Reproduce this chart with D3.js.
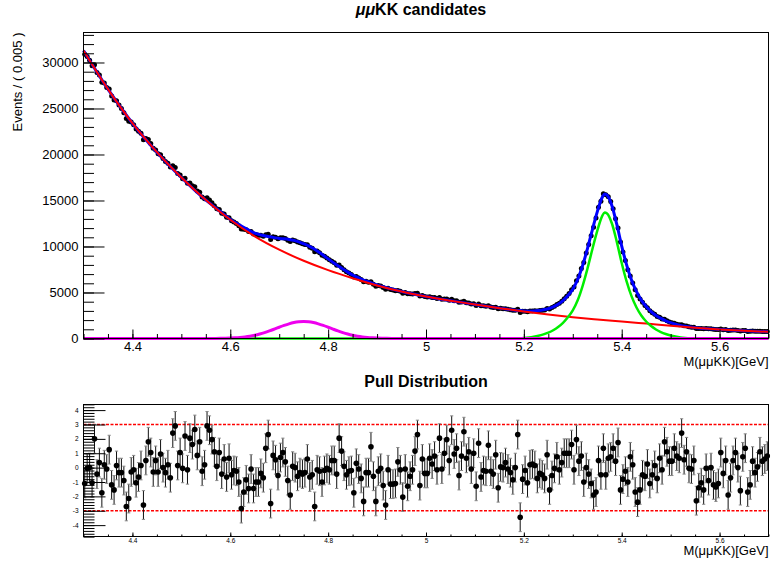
<!DOCTYPE html>
<html>
<head>
<meta charset="utf-8">
<script src="https://cdn.jsdelivr.net/npm/d3@7"></script>
<style>
  body { margin: 0; background: #fff; }
  svg text { font-family: "Liberation Sans", Arial, Helvetica, sans-serif; fill: #000; }
</style>
</head>
<body>
<div id="chart"></div>
<script>
// binning of the data histogram
const binLo = 4.3;
const binWidth = 0.005;

// events per bin (280 bins, 4.3 - 5.7)
const events = [
  30900, 30660, 30250, 29650, 29750, 28910, 28630, 27860, 27760, 27290,
  27120, 26350, 25920, 25830, 25380, 25010, 24550, 23900, 23620, 23540,
  23220, 22770, 22520, 22320, 21600, 21740, 21620, 21190, 20680, 20480,
  20070, 19970, 19560, 19240, 19040, 18640, 18790, 18580, 17930, 17780,
  17370, 17420, 16870, 16910, 16600, 16490, 16020, 15890, 15390, 15200,
  15300, 15050, 14750, 14440, 14110, 14010, 13620, 13540, 13190, 13130,
  12800, 12670, 12500, 12260, 11900, 11880, 11830, 11620, 11630, 11360,
  11310, 11230, 11220, 11120, 11280, 11320, 10770, 11070, 11000, 10840,
  10940, 10950, 10860, 10690, 10540, 10700, 10620, 10480, 10420, 10310,
  10210, 10190, 9930, 9800, 9420, 9500, 9320, 9060, 8940, 8750,
  8550, 8410, 8230, 7950, 7990, 7730, 7470, 7250, 7110, 6960,
  6690, 6730, 6580, 6410, 6170, 6220, 6120, 6160, 5910, 5680,
  5760, 5700, 5530, 5360, 5470, 5330, 5260, 5190, 5230, 5130,
  4930, 5010, 4870, 4870, 4850, 4880, 4910, 4610, 4680, 4560,
  4510, 4540, 4460, 4460, 4350, 4450, 4260, 4290, 4300, 4170,
  4260, 4110, 4090, 3930, 3980, 4040, 3880, 3870, 3760, 3780,
  3600, 3740, 3560, 3550, 3500, 3570, 3430, 3370, 3410, 3240,
  3290, 3245, 3230, 3170, 3120, 3060, 3080, 3180, 2830, 2960,
  2970, 2920, 2980, 2990, 3010, 2980, 3030, 3070, 3100, 3260,
  3200, 3360, 3510, 3700, 3820, 4050, 4330, 4600, 4900, 5300,
  5590, 6280, 6790, 7600, 8260, 9280, 10210, 11160, 12100, 13090,
  14270, 14930, 15730, 15630, 15400, 14890, 14090, 13010, 12020, 10500,
  9410, 8490, 7460, 6780, 6040, 5300, 4680, 4280, 3940, 3600,
  3340, 3010, 2800, 2630, 2400, 2310, 2120, 2090, 1930, 1790,
  1700, 1650, 1560, 1490, 1500, 1380, 1350, 1270, 1230, 1220,
  1090, 1100, 1100, 1060, 1090, 1050, 1060, 1000, 980, 970,
  1020, 960, 970, 880, 900, 920, 920, 880, 820, 870,
  870, 770, 780, 810, 780, 780, 790, 760, 750, 750
];

// pull per bin
const pulls = [
  -1.1, -0.05, 0.0, -1.05, 2.0, -0.45, 0.35, -1.75, 0.2, -0.1,
  1.25, -1.2, -1.55, 0.15, -0.35, -0.35, -0.9, -2.7, -2.15, -0.3,
  -0.15, -1.05, -0.65, 0.15, -2.6, 0.5, 1.8, 1.05, -0.3, 0.5,
  -0.3, 0.95, 0.0, -0.35, 0.2, -0.7, 2.4, 2.9, 0.15, 1.05,
  -0.05, 2.2, -0.15, 2.05, 1.6, 2.65, 0.85, 1.8, -0.25, 0.2,
  2.9, 2.6, 1.95, 1.1, 0.1, 1.05, -0.45, 0.6, -0.65, 0.65,
  -0.5, -0.2, -0.25, -1.0, -2.85, -1.7, -0.85, -1.45, -0.1, -1.45,
  -1.0, -1.0, -0.4, -0.7, 1.35, 2.3, -2.5, 0.85, 0.55, -0.55,
  0.7, 1.05, 0.4, -0.9, -1.9, 0.1, 0.0, -0.6, -0.35, -0.45,
  -0.35, 0.6, -0.65, -0.5, -2.7, -0.15, -0.25, -1.0, -0.2, -0.05,
  -0.15, 0.5, 0.5, -0.45, 2.05, 1.15, 0.1, -0.5, -0.25, -0.2,
  -1.75, 0.3, -0.1, -0.75, -2.35, -0.35, -0.35, 1.45, -0.6, -2.35,
  -0.25, -0.05, -1.25, -2.6, -0.15, -1.15, -1.15, -1.1, 0.4, -0.15,
  -2.05, -0.1, -1.3, -0.6, -0.15, 1.15, 2.3, -1.25, 0.6, -0.4,
  -0.4, 0.65, 0.25, 0.8, -0.15, 2.05, -0.1, 1.0, 1.95, 0.5,
  2.6, 0.95, 1.35, -0.55, 0.8, 2.5, 0.65, 1.1, -0.1, 1.0,
  -1.3, 1.7, -0.65, -0.2, -0.25, 1.55, -0.25, -0.45, 0.9, -1.4,
  0.05, 0.0, 0.35, -0.1, -0.35, -0.85, 0.0, 2.3, -3.45, -0.8,
  -0.2, -1.05, 0.2, 0.25, 0.15, -0.75, -0.4, -0.5, -0.75, 0.9,
  -1.55, -0.55, -0.05, 0.75, -0.15, 0.35, 1.0, 1.0, 1.0, 1.6,
  -0.15, 1.95, 0.45, 0.8, -1.0, 0.0, -0.45, -1.1, -1.9, -1.7,
  0.5, -0.5, 1.35, -0.5, 0.65, 0.75, 1.35, 0.45, 1.75, -1.55,
  -0.8, -0.25, -1.0, 0.75, 0.2, -1.7, -2.4, -1.55, -0.5, -0.6,
  0.25, -1.1, -0.5, 0.15, -0.75, 0.65, -0.15, 1.8, 1.1, 0.45,
  0.45, 1.35, 0.8, 0.65, 2.4, 0.55, 1.1, -0.05, -0.1, 0.5,
  -2.3, -1.4, -1.05, -1.55, -0.05, -0.9, 0.0, -1.2, -1.35, -1.1,
  1.05, -0.4, 0.5, -1.9, -0.7, 0.5, 1.05, 0.0, -1.6, 0.75,
  1.35, -1.7, -1.2, 0.45, -0.35, 0.05, 1.1, 0.45, 0.6, 0.8
];

// background fit (red)
const bkgMass = [4.30, 4.35, 4.40, 4.45, 4.50, 4.55, 4.60, 4.65, 4.70, 4.75,
  4.80, 4.85, 4.90, 4.95, 5.00, 5.05, 5.10, 5.15, 5.20, 5.25,
  5.30, 5.35, 5.40, 5.45, 5.50, 5.55, 5.60, 5.65, 5.70];
const bkgFit = [31300, 27100, 23400, 20250, 17500, 15050, 12900, 11100, 9650, 8450,
  7430, 6550, 5770, 5100, 4560, 4110, 3700, 3300, 2930, 2600,
  2310, 2070, 1850, 1620, 1390, 1180, 990, 840, 720];

// total fit (blue)
const totalMass = [4.30, 4.35, 4.40, 4.45, 4.50, 4.55,
  4.56, 4.57, 4.58, 4.59, 4.60, 4.61, 4.62, 4.63, 4.64, 4.65,
  4.66, 4.67, 4.68, 4.69, 4.70, 4.71, 4.72, 4.73, 4.74, 4.75,
  4.76, 4.77, 4.78, 4.79, 4.80, 4.81, 4.82, 4.83, 4.84, 4.85,
  4.86, 4.87, 4.88, 4.89, 4.90, 4.91, 4.92, 4.93, 4.94, 4.95,
  5.00, 5.05, 5.10, 5.15,
  5.16, 5.17, 5.18, 5.19, 5.20, 5.21, 5.22, 5.23, 5.24, 5.25,
  5.26, 5.27, 5.28, 5.29, 5.30, 5.31, 5.32, 5.33, 5.34, 5.35,
  5.36, 5.365, 5.37, 5.38, 5.39, 5.40, 5.41, 5.42, 5.43, 5.44, 5.45,
  5.46, 5.47, 5.48, 5.49, 5.50, 5.51, 5.52, 5.53, 5.54, 5.55,
  5.60, 5.65, 5.70];
const totalFit = [31300, 27100, 23400, 20250, 17500, 15050,
  14625, 14199, 13776, 13357, 12945, 12612, 12293, 11991, 11710, 11454,
  11295, 11162, 11053, 10960, 10874, 10830, 10764, 10662, 10510, 10300,
  10066, 9774, 9432, 9054, 8654, 8274, 7901, 7544, 7211, 6904,
  6644, 6409, 6195, 5998, 5815, 5663, 5518, 5377, 5239, 5103,
  4560, 4110, 3700, 3300,
  3226, 3157, 3093, 3034, 2990, 2974, 2988, 3032, 3116, 3240,
  3442, 3734, 4126, 4668, 5360, 6412, 7914, 9766, 11818, 13770,
  15326, 15704, 15582, 14438, 12394, 10050, 8004, 6358, 5112, 4166, 3470,
  2924, 2508, 2182, 1926, 1720, 1558, 1426, 1324, 1242, 1180,
  990, 840, 720];

// signal peak (green)
const sigMass = [4.30, 5.15,
  5.16, 5.17, 5.18, 5.19, 5.20, 5.21, 5.22, 5.23, 5.24, 5.25,
  5.26, 5.27, 5.28, 5.29, 5.30, 5.31, 5.32, 5.33, 5.34, 5.35,
  5.36, 5.365, 5.37, 5.38, 5.39, 5.40, 5.41, 5.42, 5.43, 5.44, 5.45,
  5.46, 5.47, 5.48, 5.49, 5.50, 5.51, 5.52, 5.53, 5.54, 5.55, 5.70];
const sigFit = [0, 0,
  0, 5, 15, 30, 60, 110, 190, 300, 450, 640,
  900, 1250, 1700, 2300, 3050, 4150, 5700, 7600, 9700, 11700,
  13300, 13700, 13600, 12500, 10500, 8200, 6200, 4600, 3400, 2500, 1850,
  1350, 980, 700, 490, 330, 210, 120, 60, 20, 0, 0];

// partially reconstructed hump (magenta)
const humpMass = [4.30,
  4.55, 4.56, 4.57, 4.58, 4.59, 4.60, 4.61, 4.62, 4.63, 4.64,
  4.65, 4.66, 4.67, 4.68, 4.69, 4.70, 4.71, 4.72, 4.73, 4.74,
  4.75, 4.76, 4.77, 4.78, 4.79, 4.80, 4.81, 4.82, 4.83, 4.84,
  4.85, 4.86, 4.87, 4.88, 4.89, 4.90, 4.91, 4.92, 4.93, 4.94, 4.95,
  5.70];
const humpFit = [0,
  3, 5, 9, 16, 27, 45, 72, 113, 171, 250,
  354, 485, 642, 823, 1020, 1224, 1420, 1594, 1732, 1820,
  1850, 1820, 1732, 1594, 1420, 1224, 1020, 823, 642, 485,
  354, 250, 171, 113, 72, 45, 27, 16, 9, 5, 3,
  0];

const xTicks = [4.4, 4.6, 4.8, 5.0, 5.2, 5.4, 5.6];
const xTickLabels = ["4.4", "4.6", "4.8", "5", "5.2", "5.4", "5.6"];
const yTicks = [0, 5000, 10000, 15000, 20000, 25000, 30000];
const pullTicks = [-4, -3, -2, -1, 0, 1, 2, 3, 4];
const pullLimits = [3, -3];

const W = 776, H = 568;
const plotL = 83.5, plotR = 768.5;
const topT = 32.5, topB = 338.5;
const pullT = 404.5, pullB = 536.5;

const svg = d3.select("#chart").append("svg").attr("width", W).attr("height", H);

const x = d3.scaleLinear().domain([4.3, 5.7]).range([plotL, plotR]);
const y = d3.scaleLinear().domain([0, 33260]).range([topB, topT]);
const yp = d3.scaleLinear().domain([-4.79, 4.39]).range([pullB, pullT]);

const binCenter = (i) => binLo + binWidth * (i + 0.5);

// ---------- top panel ----------
svg.append("g")
  .selectAll("circle")
  .data(events)
  .join("circle")
  .attr("cx", (d, i) => x(binCenter(i)))
  .attr("cy", (d) => y(d))
  .attr("r", 2.5)
  .attr("fill", "#000");

const fitLine = (xs) => d3.line()
  .x((d, i) => x(xs[i]))
  .y((d) => y(d))
  .curve(d3.curveMonotoneX);

svg.append("path").attr("d", fitLine(totalMass)(totalFit))
  .attr("fill", "none").attr("stroke", "#0000ff").attr("stroke-width", 3);
svg.append("path").attr("d", fitLine(bkgMass)(bkgFit))
  .attr("fill", "none").attr("stroke", "#ff0000").attr("stroke-width", 2);
svg.append("path").attr("d", fitLine(sigMass)(sigFit))
  .attr("fill", "none").attr("stroke", "#00ee00").attr("stroke-width", 2.5);
svg.append("path").attr("d", fitLine(humpMass)(humpFit))
  .attr("fill", "none").attr("stroke", "#ee00ee").attr("stroke-width", 3);

function styleAxis(g, size) {
  g.select(".domain").remove();
  g.attr("font-size", size)
    .attr("font-family", '"Liberation Sans", Arial, Helvetica, sans-serif');
  g.selectAll("line").attr("stroke", "#000");
}

const minorX = d3.range(4.3, 5.7001, 0.05);

svg.append("g")
  .attr("transform", `translate(0,${topB})`)
  .call(d3.axisBottom(x).tickValues(minorX).tickFormat("").tickSize(-4.5))
  .call((g) => styleAxis(g, 13));

svg.append("g")
  .attr("transform", `translate(0,${topB})`)
  .call(d3.axisBottom(x).tickValues(xTicks).tickFormat((d, i) => xTickLabels[i])
    .tickSize(-9).tickPadding(3))
  .call((g) => styleAxis(g, 13));

svg.append("g")
  .attr("transform", `translate(${plotL},0)`)
  .call(d3.axisLeft(y).tickValues(d3.range(0, 33001, 1000)).tickFormat("").tickSize(-10.5))
  .call((g) => styleAxis(g, 13));

svg.append("g")
  .attr("transform", `translate(${plotL},0)`)
  .call(d3.axisLeft(y).tickValues(yTicks).tickFormat((d) => String(d))
    .tickSize(-21).tickPadding(5))
  .call((g) => styleAxis(g, 13));

svg.append("rect")
  .attr("x", plotL).attr("y", topT)
  .attr("width", plotR - plotL).attr("height", topB - topT)
  .attr("fill", "none").attr("stroke", "#000").attr("stroke-width", 1);

const title = svg.append("text")
  .attr("x", 421).attr("y", 14.5)
  .attr("text-anchor", "middle").attr("font-size", 16).attr("font-weight", "bold");
title.append("tspan").attr("font-style", "italic").text("μμ");
title.append("tspan").text("KK candidates");

svg.append("text")
  .attr("transform", `translate(21.8,${topT}) rotate(-90)`)
  .attr("text-anchor", "end").attr("font-size", 13)
  .text("Events / ( 0.005 )");

svg.append("text")
  .attr("x", plotR).attr("y", 366)
  .attr("text-anchor", "end").attr("font-size", 13)
  .text("M(μμKK)[GeV]");

// ---------- pull panel ----------
svg.append("g")
  .selectAll("line")
  .data(pullLimits)
  .join("line")
  .attr("x1", plotL).attr("x2", plotR)
  .attr("y1", (d) => yp(d)).attr("y2", (d) => yp(d))
  .attr("stroke", "#ff0000").attr("stroke-width", 1.5)
  .attr("stroke-dasharray", "3,1.5");

const bars = svg.append("g");
bars.selectAll("line.err")
  .data(pulls)
  .join("line")
  .attr("class", "err")
  .attr("x1", (d, i) => x(binCenter(i))).attr("x2", (d, i) => x(binCenter(i)))
  .attr("y1", (d) => yp(d - 1)).attr("y2", (d) => yp(d + 1))
  .attr("stroke", "#111").attr("stroke-width", 1);

[-1, 1].forEach((s) => {
  bars.selectAll(`line.cap${s > 0 ? "u" : "d"}`)
    .data(pulls)
    .join("line")
    .attr("class", `cap${s > 0 ? "u" : "d"}`)
    .attr("x1", (d, i) => x(binCenter(i)) - 1.6).attr("x2", (d, i) => x(binCenter(i)) + 1.6)
    .attr("y1", (d) => yp(d + s)).attr("y2", (d) => yp(d + s))
    .attr("stroke", "#888").attr("stroke-width", 1);
});

svg.append("g")
  .selectAll("circle")
  .data(pulls)
  .join("circle")
  .attr("cx", (d, i) => x(binCenter(i)))
  .attr("cy", (d) => yp(d))
  .attr("r", 2.8)
  .attr("fill", "#000");

svg.append("g")
  .attr("transform", `translate(0,${pullB})`)
  .call(d3.axisBottom(x).tickValues(minorX).tickFormat("").tickSize(-2))
  .call((g) => styleAxis(g, 6.5));

svg.append("g")
  .attr("transform", `translate(0,${pullB})`)
  .call(d3.axisBottom(x).tickValues(xTicks).tickFormat((d, i) => xTickLabels[i])
    .tickSize(-4).tickPadding(1.5))
  .call((g) => styleAxis(g, 6.5));

svg.append("g")
  .attr("transform", `translate(${plotL},0)`)
  .call(d3.axisLeft(yp).tickValues(d3.range(-4.8, 4.41, 0.2)).tickFormat("").tickSize(-11))
  .call((g) => styleAxis(g, 6.5));

svg.append("g")
  .attr("transform", `translate(${plotL},0)`)
  .call(d3.axisLeft(yp).tickValues(pullTicks).tickFormat((d) => String(d))
    .tickSize(-22).tickPadding(5))
  .call((g) => styleAxis(g, 6.5));

svg.append("rect")
  .attr("x", plotL).attr("y", pullT)
  .attr("width", plotR - plotL).attr("height", pullB - pullT)
  .attr("fill", "none").attr("stroke", "#000").attr("stroke-width", 1);

svg.append("text")
  .attr("x", 426).attr("y", 386.5)
  .attr("text-anchor", "middle").attr("font-size", 16).attr("font-weight", "bold")
  .text("Pull Distribution");

svg.append("text")
  .attr("x", plotR).attr("y", 555)
  .attr("text-anchor", "end").attr("font-size", 13)
  .text("M(μμKK)[GeV]");
</script>
</body>
</html>
